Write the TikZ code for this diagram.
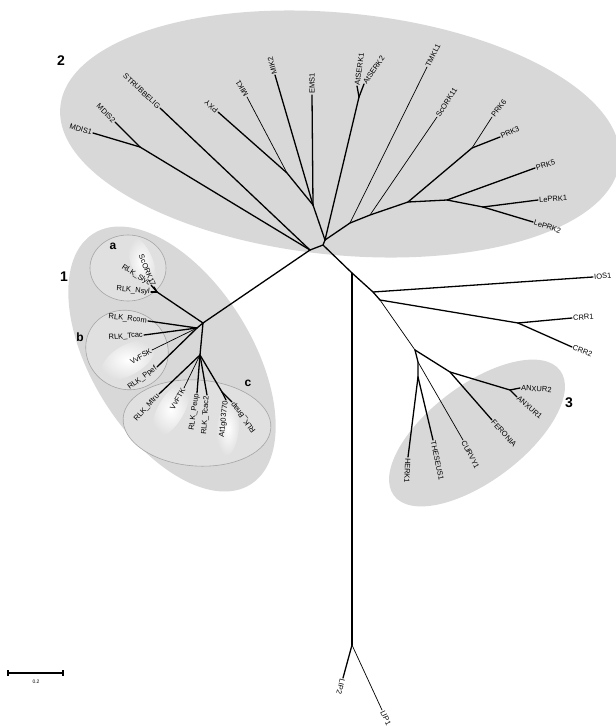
\documentclass[tikz,border=0pt]{standalone}
\usepackage{fontspec}
\setmainfont{Liberation Sans}
\definecolor{gfill}{RGB}{216,216,216}
\definecolor{subfill}{RGB}{224,224,224}
\definecolor{subline}{RGB}{165,165,165}
\tikzset{
  br/.style={line width=1.3pt, line cap=round},
  brt/.style={line width=0.7pt, line cap=round},
  lab/.style={font=\fontsize{7.5}{8}\selectfont, inner sep=1pt},
  labE/.style={lab, anchor=east},
  labW/.style={lab, anchor=west},
  grp/.style={fill=gfill, draw=none},
  subgrp/.style={fill=subfill, draw=subline, line width=0.6pt},
  glow/.style={inner color=white, outer color=subfill},
  num/.style={font=\fontsize{14}{14}\selectfont\bfseries},
  letr/.style={font=\fontsize{12}{12}\selectfont\bfseries},
}
\begin{document}
\begin{tikzpicture}[x=1pt,y=-1pt]
\useasboundingbox (0,0) rectangle (616,726);
% ---- group areas
\fill[grp, rotate around={-5.6:(340,134)}] (340,134) ellipse [x radius=281pt, y radius=121pt];
\fill[grp, rotate around={-58:(172,359)}] (172,359) ellipse [x radius=148pt, y radius=80pt];
\fill[grp, rotate around={37:(477,433)}] (477,433) ellipse [x radius=104pt, y radius=48pt];
\draw[subgrp] (128,268) ellipse [x radius=38pt, y radius=33pt];
\draw[subgrp, rotate around={-30:(127,350)}] (127,350) ellipse [x radius=42pt, y radius=39pt];
\draw[subgrp, rotate around={-4:(197,423)}] (197,423) ellipse [x radius=74pt, y radius=43pt];
\shade[glow, rotate around={-68:(142,262)}] (142,262) ellipse [x radius=26pt, y radius=11pt];
\shade[glow, rotate around={30:(128,360)}] (128,360) ellipse [x radius=30pt, y radius=15pt];
\shade[glow, rotate around={60:(171,410)}] (171,410) ellipse [x radius=30pt, y radius=13pt];
\shade[glow, rotate around={85:(228,428)}] (228,428) ellipse [x radius=28pt, y radius=11pt];
% ---- group numbers
\node[num] (n2) at (61,61) {2};
\node[num] (n1) at (64,277) {1};
\node[num] (n3) at (569,403) {3};
\node[letr] (na) at (113,246) {a};
\node[letr] (nb) at (80,337) {b};
\node[letr] (nc) at (248,383) {c};
% ---- junctions
\coordinate (J0) at (310,250);
\coordinate (J2a) at (323,245);
\coordinate (JB) at (325,240);
\coordinate (J3) at (352,273);
\coordinate (JIOS) at (373,292);
\coordinate (JCRR) at (380,300);
\coordinate (JG3) at (415,350);
\coordinate (JLIP) at (352,645);
\coordinate (JMD) at (140,147);
\coordinate (JE) at (313,205);
\coordinate (JP) at (287,173);
\coordinate (JS) at (359,97);
\coordinate (JT) at (350,223);
\coordinate (JSc) at (370,215);
\coordinate (JPR) at (408,202);
\coordinate (JPK) at (447,200);
\coordinate (JLe) at (483,207);
\coordinate (J36) at (472,148);
\coordinate (G1) at (203,323);
\coordinate (Ja) at (157,292);
\coordinate (G1b) at (197,328);
\coordinate (Gc) at (200,355);
\coordinate (Jab) at (222,392);
\coordinate (JCR) at (518,323);
\coordinate (JF) at (450,372);
\coordinate (JA) at (510,390);
\coordinate (JC) at (418,362);
\coordinate (JH) at (418,377);
% ---- tips
\coordinate (tMDIS1) at (93,133);
\coordinate (tMDIS2) at (115,122);
\coordinate (tSTRUB) at (160,108);
\coordinate (tPXY) at (218,112);
\coordinate (tMIK1) at (247,97);
\coordinate (tMIK2) at (275,75);
\coordinate (tEMS1) at (312,95);
\coordinate (tSERK1) at (357,86);
\coordinate (tSERK2) at (364,84);
\coordinate (tTMKL1) at (427,67);
\coordinate (tScORK11) at (437,117);
\coordinate (tPRK6) at (492,117);
\coordinate (tPRK3) at (500,137);
\coordinate (tPRK5) at (535,168);
\coordinate (tLePRK1) at (538,200);
\coordinate (tLePRK2) at (533,222);
\coordinate (tScORK17) at (154,287);
\coordinate (tSlyc) at (151,285);
\coordinate (tNsyl) at (151,292);
\coordinate (tRcom) at (148,321);
\coordinate (tTcac) at (144,335);
\coordinate (tVvFSK) at (152,350);
\coordinate (tPpef) at (157,367);
\coordinate (tMtru) at (159,394);
\coordinate (tVvFTK) at (184,388);
\coordinate (tPeup) at (197,393);
\coordinate (tTcac2) at (207,395);
\coordinate (tAt) at (226,400);
\coordinate (tBnap) at (232,402);
\coordinate (tIOS1) at (593,277);
\coordinate (tCRR1) at (572,318);
\coordinate (tCRR2) at (572,347);
\coordinate (tANX2) at (520,388);
\coordinate (tANX1) at (517,397);
\coordinate (tFER) at (492,420);
\coordinate (tCUR) at (463,440);
\coordinate (tTHE) at (433,440);
\coordinate (tHER) at (408,457);
\coordinate (tLIP2) at (343,678);
\coordinate (tLIP1) at (382,710);
% ---- branches: group 2
\draw[br] (J0) -- (J2a) -- (JB);
\draw[br] (J0) -- (JMD);
\draw[br] (JMD) -- (tMDIS1);
\draw[br] (JMD) -- (tMDIS2);
\draw[br] (J0) -- (tSTRUB);
\draw[br] (JB) -- (JE);
\draw[br] (JE) -- (tEMS1);
\draw[br] (JE) -- (tMIK2);
\draw[br] (JE) -- (JP);
\draw[br] (JP) -- (tPXY);
\draw[brt] (JP) -- (tMIK1);
\draw[br] (JB) -- (JS);
\draw[br] (JS) -- (tSERK1);
\draw[br] (JS) -- (tSERK2);
\draw[br] (JB) -- (JT) -- (JSc) -- (JPR) -- (JPK) -- (JLe);
\draw[brt] (JT) -- (tTMKL1);
\draw[brt] (JSc) -- (tScORK11);
\draw[br] (JPR) -- (J36);
\draw[brt] (J36) -- (tPRK6);
\draw[br] (J36) -- (tPRK3);
\draw[br] (JPK) -- (tPRK5);
\draw[br] (JLe) -- (tLePRK1);
\draw[br] (JLe) -- (tLePRK2);
% ---- group 1
\draw[br] (J0) -- (G1);
\draw[br] (G1) -- (Ja);
\draw[br] (Ja) -- (tScORK17);
\draw[br] (Ja) -- (tSlyc);
\draw[br] (Ja) -- (tNsyl);
\draw[br] (G1) -- (G1b);
\draw[br] (G1b) -- (tRcom);
\draw[br] (G1b) -- (tTcac);
\draw[brt] (G1b) -- (tVvFSK);
\draw[br] (G1b) -- (tPpef);
\draw[br] (G1) -- (Gc);
\draw[br] (Gc) -- (tMtru);
\draw[brt] (Gc) -- (tVvFTK);
\draw[br] (Gc) -- (tPeup);
\draw[br] (Gc) -- (tTcac2);
\draw[br] (Gc) -- (Jab);
\draw[br] (Jab) -- (tAt);
\draw[br] (Jab) -- (tBnap);
% ---- right part
\draw[br] (J2a) -- (J3) -- (JIOS) -- (JCRR);
\draw[br] (JIOS) -- (tIOS1);
\draw[br] (JCRR) -- (JCR);
\draw[br] (JCR) -- (tCRR1);
\draw[br] (JCR) -- (tCRR2);
\draw[brt] (JCRR) -- (JG3);
\draw[br] (JG3) -- (JF) -- (JA);
\draw[br] (JA) -- (tANX2);
\draw[br] (JA) -- (tANX1);
\draw[br] (JF) -- (tFER);
\draw[br] (JG3) -- (JC) -- (JH);
\draw[brt] (JC) -- (tCUR);
\draw[br] (JH) -- (tHER);
\draw[br] (JH) -- (tTHE);
\draw[br] (J3) -- (JLIP);
\draw[br] (JLIP) -- (tLIP2);
\draw[brt] (JLIP) -- (tLIP1);
% ---- labels group 2
\node[labE, rotate=-17] (lMDIS1) at (tMDIS1) {MDIS1};
\node[labE, rotate=-45] (lMDIS2) at (tMDIS2) {MDIS2};
\node[labE, rotate=-43] (lSTRUB) at (tSTRUB) {STRUBBELIG};
\node[labW, rotate=140] (lPXY) at (tPXY) {PXY};
\node[labW, rotate=120] (lMIK1) at (tMIK1) {MIK1};
\node[labW, rotate=106] (lMIK2) at (tMIK2) {MIK2};
\node[labW, rotate=90] (lEMS1) at (tEMS1) {EMS1};
\node[labW, rotate=82] (lSERK1) at (tSERK1) {AtSERK1};
\node[labW, rotate=55] (lSERK2) at (tSERK2) {AtSERK2};
\node[labW, rotate=63] (lTMKL1) at (tTMKL1) {TMKL1};
\node[labW, rotate=57] (lScORK11) at (tScORK11) {ScORK11};
\node[labW, rotate=52] (lPRK6) at (tPRK6) {PRK6};
\node[labW, rotate=24] (lPRK3) at (tPRK3) {PRK3};
\node[labW, rotate=17] (lPRK5) at (tPRK5) {PRK5};
\node[labW, rotate=4] (lLePRK1) at (tLePRK1) {LePRK1};
\node[labW, rotate=-18] (lLePRK2) at (tLePRK2) {LePRK2};
% ---- labels group 1
\node[labE, rotate=-68] (lScORK17) at (tScORK17) {ScORK17};
\node[labE, rotate=-33] (lSlyc) at (tSlyc) {RLK\_Slyc};
\node[labE, rotate=-5] (lNsyl) at (tNsyl) {RLK\_Nsyl};
\node[labE, rotate=-6] (lRcom) at (tRcom) {RLK\_Rcom};
\node[labE, rotate=5] (lTcac) at (tTcac) {RLK\_Tcac};
\node[labE, rotate=30] (lVvFSK) at (tVvFSK) {VvFSK};
\node[labE, rotate=37] (lPpef) at (tPpef) {RLK\_Ppef};
\node[labE, rotate=48] (lMtru) at (tMtru) {RLK\_Mtru};
\node[labE, rotate=60] (lVvFTK) at (tVvFTK) {VvFTK};
\node[labE, rotate=82] (lPeup) at (tPeup) {RLK\_Peup};
\node[labE, rotate=86] (lTcac2) at (tTcac2) {RLK\_Tcac2};
\node[labE, rotate=84] (lAt) at (tAt) {At1g03770};
\node[labE, rotate=127] (lBnap) at (tBnap) {RLK\_Bnap};
% ---- labels right
\node[labW, rotate=5] (lIOS1) at (tIOS1) {IOS1};
\node[labW, rotate=5] (lCRR1) at (tCRR1) {CRR1};
\node[labW, rotate=-22] (lCRR2) at (tCRR2) {CRR2};
\node[labW, rotate=-3] (lANX2) at (tANX2) {ANXUR2};
\node[labW, rotate=-40] (lANX1) at (tANX1) {ANXUR1};
\node[labW, rotate=-48] (lFER) at (tFER) {FERONIA};
\node[labW, rotate=-63] (lCUR) at (tCUR) {CURVY1};
\node[labW, rotate=-78] (lTHE) at (tTHE) {THESEUS1};
\node[labW, rotate=-93] (lHER) at (tHER) {HERK1};
\node[labW, rotate=-105] (lLIP2) at (tLIP2) {LIP2};
\node[labW, rotate=-65] (lLIP1) at (tLIP1) {LIP1};
% ---- scale bar
\coordinate (s1) at (8,673);
\coordinate (s2) at (63,673);
\draw[line width=1.2pt] (s1) -- (s2);
\draw[line width=1.2pt] ([yshift=3pt]s1) -- ([yshift=-3pt]s1);
\draw[line width=1.2pt] ([yshift=3pt]s2) -- ([yshift=-3pt]s2);
\node[font=\fontsize{5}{5}\selectfont] (lscale) at (36,682) {0.2};
\end{tikzpicture}
\end{document}
